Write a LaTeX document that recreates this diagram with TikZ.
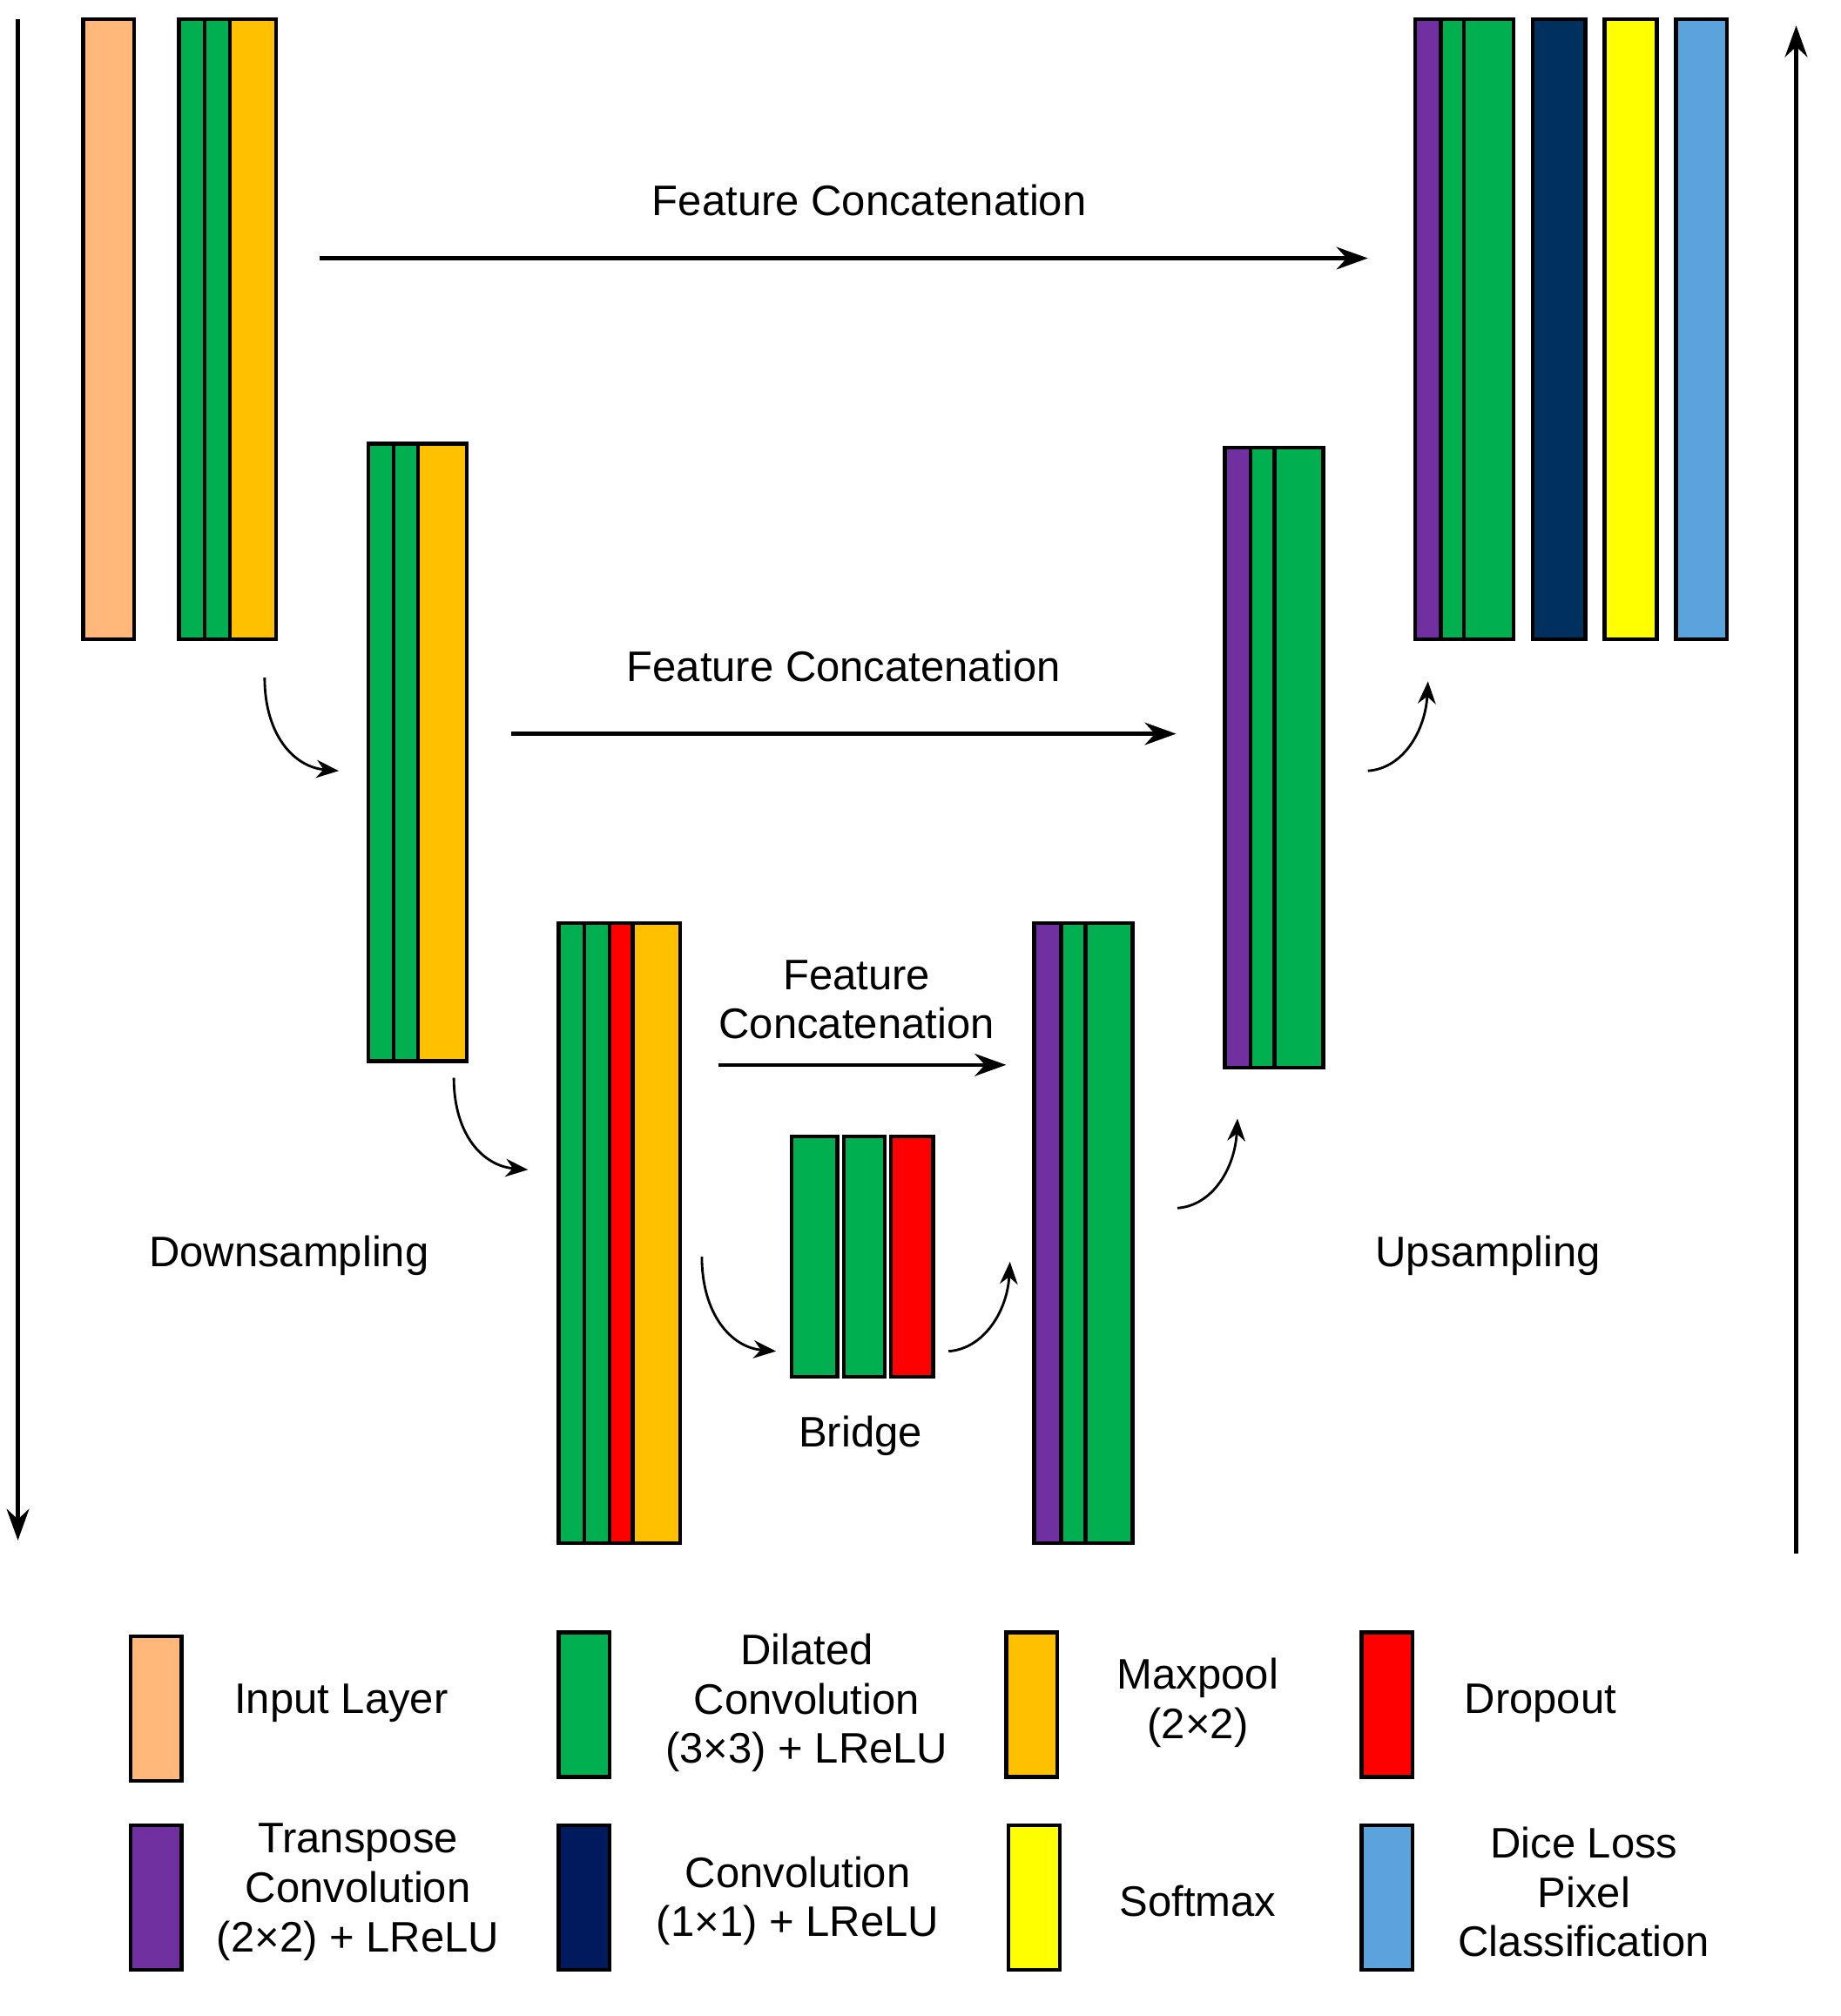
\documentclass[tikz,border=0pt]{standalone}
\usepackage{fontspec}
\setmainfont{Liberation Sans}
\usetikzlibrary{arrows.meta}
\definecolor{cOr}{HTML}{FFB77A}
\definecolor{cGr}{HTML}{00B050}
\definecolor{cGo}{HTML}{FFC000}
\definecolor{cRe}{HTML}{FF0000}
\definecolor{cPu}{HTML}{7030A0}
\definecolor{cNa}{HTML}{00305E}
\definecolor{cNb}{HTML}{001A5E}
\definecolor{cYe}{HTML}{FFFF00}
\definecolor{cBl}{HTML}{5BA3DC}
\newcommand\strip[6]{%
 \pgfmathsetmacro\ww{(#3-#2)*0.02}\pgfmathsetmacro\hh{(#5-#4)*0.02}%
 \node[box,fill=#6,minimum width=\ww cm,minimum height=\hh cm] (#1) at ({(#2+#3)/2},{(#4+#5)/2}) {};}
\begin{document}
\begin{tikzpicture}[x=0.02cm,y=-0.02cm,
 box/.style={draw,line width=1.7pt,inner sep=0pt,outer sep=0pt},
 arr/.style={line width=1.7pt,-{Stealth[length=14pt,width=10pt]}},
 carr/.style={line width=1.1pt,-{Stealth[length=10pt,width=8pt]}},
 lab/.style={font=\fontsize{19}{22}\selectfont,align=center}]
\useasboundingbox (0,0) rectangle (1440,1577);
% side arrows
\coordinate (la) at (14,15); \coordinate (lb) at (14,1205);
\coordinate (ra) at (1405,1215); \coordinate (rb) at (1405,20);
\draw[arr] (la) -- (lb); \draw[arr] (ra) -- (rb);
% blocks
\strip{in}{65}{105}{15}{500}{cOr}
\strip{a1}{140}{160}{15}{500}{cGr}\strip{a2}{160}{180}{15}{500}{cGr}\strip{a3}{180}{216}{15}{500}{cGo}
\strip{b1}{288}{308}{347}{830}{cGr}\strip{b2}{308}{327}{347}{830}{cGr}\strip{b3}{327}{365}{347}{830}{cGo}
\strip{c1}{437}{457}{722}{1207}{cGr}\strip{c2}{457}{477}{722}{1207}{cGr}\strip{c3}{477}{495}{722}{1207}{cRe}\strip{c4}{495}{532}{722}{1207}{cGo}
\strip{d1}{619}{655}{889}{1077}{cGr}\strip{d2}{660}{692}{889}{1077}{cGr}\strip{d3}{697}{730}{889}{1077}{cRe}
\strip{e1}{809}{830}{722}{1207}{cPu}\strip{e2}{830}{849}{722}{1207}{cGr}\strip{e3}{849}{886}{722}{1207}{cGr}
\strip{f1}{958}{978}{350}{835}{cPu}\strip{f2}{978}{997}{350}{835}{cGr}\strip{f3}{997}{1035}{350}{835}{cGr}
\strip{g1}{1107}{1127}{15}{500}{cPu}\strip{g2}{1127}{1145}{15}{500}{cGr}\strip{g3}{1145}{1184}{15}{500}{cGr}
\strip{g4}{1199}{1240}{15}{500}{cNa}\strip{g5}{1255}{1296}{15}{500}{cYe}\strip{g6}{1311}{1351}{15}{500}{cBl}
% concatenation arrows
\coordinate (t1) at (250,202); \coordinate (t2) at (1070,202);
\coordinate (m1) at (400,574); \coordinate (m2) at (920,574);
\coordinate (s1) at (562,833); \coordinate (s2) at (787,833);
\draw[arr] (t1) -- (t2); \draw[arr] (m1) -- (m2); \draw[arr] (s1) -- (s2);
\node[lab] (ft) at (680,157) {Feature Concatenation};
\node[lab] (fm) at (660,521) {Feature Concatenation};
\node[lab] (fs) at (670,782) {Feature\\Concatenation};
% curved arrows
\draw[carr] (207,530) .. controls (207,575) and (230,600) .. (265,603);
\draw[carr] (355,843) .. controls (355,888) and (378,912) .. (413,915);
\draw[carr] (549,983) .. controls (549,1028) and (572,1054) .. (607,1057);
\draw[carr] (742,1057) .. controls (770,1055) and (788,1025) .. (790,987);
\draw[carr] (921,945) .. controls (949,943) and (966,913) .. (968,875);
\draw[carr] (1070,603) .. controls (1098,601) and (1115,571) .. (1117,533);
\node[lab] (dn) at (226,982) {Downsampling};
\node[lab] (up) at (1164,982) {Upsampling};
\node[lab] (br) at (673,1123) {Bridge};
% legend
\strip{L1}{102}{142}{1280}{1393}{cOr}\node[lab] (t1l) at (267,1332) {Input Layer};
\strip{L2}{437}{477}{1277}{1390}{cGr}\node[lab] (t2l) at (631,1332) {Dilated\\Convolution\\(3×3) + LReLU};
\strip{L3}{787}{827}{1277}{1390}{cGo}\node[lab] (t3l) at (937,1332) {Maxpool\\(2×2)};
\strip{L4}{1065}{1105}{1277}{1390}{cRe}\node[lab] (t4l) at (1205,1332) {Dropout};
\strip{L5}{102}{142}{1428}{1541}{cPu}\node[lab] (t5l) at (280,1480) {Transpose\\Convolution\\(2×2) + LReLU};
\strip{L6}{437}{477}{1428}{1541}{cNb}\node[lab] (t6l) at (624,1487) {Convolution\\(1×1) + LReLU};
\strip{L7}{789}{829}{1428}{1541}{cYe}\node[lab] (t7l) at (937,1487) {Softmax};
\strip{L8}{1065}{1105}{1428}{1541}{cBl}\node[lab] (t8l) at (1239,1480) {Dice Loss\\Pixel\\Classification};
\end{tikzpicture}
\end{document}
